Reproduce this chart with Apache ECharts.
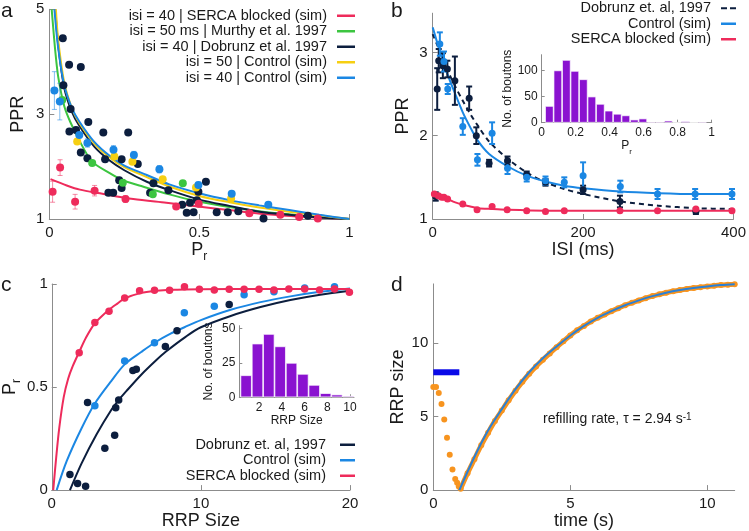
<!DOCTYPE html>
<html><head><meta charset="utf-8">
<script src="https://cdn.jsdelivr.net/npm/echarts@6/dist/echarts.min.js"></script>
<style>html,body{margin:0;padding:0;background:#fff}#c{width:749px;height:531px}</style>
</head><body><div id="c"></div>
<script>
// ---------- Panel a data ----------
const aSercaPr = [0.011,0.036,0.086,0.151,0.254,0.423,0.498,0.667,0.770,0.833,0.895];
const aSercaPPR = [1.52,1.98,1.33,1.54,1.38,1.24,1.29,1.11,1.08,1.04,1.01];
const aSercaErr = [0.2,0.15,0.14,0.1,0.06,0,0,0,0,0,0];
const aMurthyPr = [0.043,0.143,0.245,0.345,0.445];
const aMurthyPPR = [3.27,2.07,1.69,1.47,1.68];
const aDobPr = [0.045,0.047,0.066,0.105,0.071,0.067,0.089,0.105,0.130,0.127,0.180,0.186,0.263,0.241,0.295,0.233,0.197,0.213,0.241,0.336,0.347,0.397,0.443,0.458,0.469,0.481,0.492,0.497,0.522,0.558,0.595,0.630,0.714,0.862];
const aDobPPR = [4.45,3.55,3.94,3.90,3.10,2.67,2.70,2.27,2.85,2.16,2.65,2.14,2.65,2.14,2.05,1.74,1.50,1.50,1.59,1.50,1.68,1.55,1.27,1.12,1.31,1.13,1.36,1.52,1.71,1.13,1.13,1.15,1.01,1.06];
const aCtl50Pr = [0.093,0.217,0.277,0.378,0.489,0.606];
const aCtl50PPR = [2.48,2.19,2.09,1.76,1.60,1.39];
const aCtl40Pr = [0.017,0.035,0.100,0.127,0.214,0.282,0.367,0.497,0.608,0.730];
const aCtl40PPR = [3.45,3.24,2.60,2.45,2.32,2.22,1.95,1.65,1.48,1.27];
const aCtl40Err = [0.36,0.35,0.05,0.08,0.08,0.07,0.07,0.05,0.04,0.04];
// fitted curves
const aSercaFitPr = [0.004,0.058,0.102,0.169,0.28,0.39,0.503,0.614,0.725,0.836,1.0];
const aSercaFitPPR = [1.76,1.64,1.56,1.49,1.38,1.31,1.235,1.16,1.09,1.045,1.0];
const aMurthyFitPr = [0.008,0.02,0.03,0.05,0.07,0.1,0.142,0.2,0.245,0.3,0.4,0.5,0.6,0.7,0.8,0.9,1.0];
const aMurthyFitPPR = [5,4.2,3.7,3.15,2.85,2.5,2.1,1.88,1.74,1.64,1.47,1.33,1.23,1.15,1.09,1.04,1.0];
const aDobFitPr = [0.02,0.03,0.05,0.075,0.1,0.15,0.2,0.25,0.325,0.4,0.5,0.6,0.7,0.8,0.9,1.0];
const aDobFitPPR = [5,4.3,3.5,3.05,2.78,2.38,2.12,1.93,1.71,1.55,1.37,1.25,1.14,1.08,1.03,1.0];
const aCtl50FitPr = [0.022,0.03,0.05,0.075,0.1,0.15,0.2,0.25,0.325,0.4,0.5,0.6,0.7,0.8,0.9,1.0];
const aCtl50FitPPR = [5,4.4,3.6,3.12,2.83,2.44,2.18,1.99,1.80,1.62,1.44,1.32,1.22,1.14,1.07,1.0];
const aCtl40FitPr = [0.017,0.03,0.05,0.075,0.1,0.15,0.2,0.25,0.325,0.4,0.5,0.6,0.7,0.8,0.9,1.0];
const aCtl40FitPPR = [5,4.25,3.55,3.12,2.86,2.47,2.21,2.02,1.84,1.66,1.49,1.36,1.26,1.17,1.08,1.0];
const aXTicks = [0,0.5,1];
const aYTicks = [1,3,5];

// ---------- Panel b data ----------
const bDobISI = [4,6,8,13.5,19.5,29.5,48.5,58,75,99.5,125,150,200,249,350];
const bDobPPR = [1.27,2.56,2.90,2.84,2.80,2.66,2.45,2.00,1.67,1.70,1.53,1.44,1.35,1.21,1.09];
const bDobErr = [0.05,0.25,0.14,0.15,0.1,0.29,0.14,0.1,0.04,0.05,0.04,0.04,0.05,0.07,0.03];
const bCtlISI = [9.5,15,20,40,59.5,79,99.5,125,150,175,200,249.5,299,349,398];
const bCtlPPR = [3.10,2.89,2.56,2.11,1.71,2.03,1.61,1.50,1.46,1.44,1.52,1.39,1.30,1.30,1.30];
const bCtlErr = [0.14,0.12,0.06,0.1,0.07,0.13,0.07,0.05,0.05,0.06,0.16,0.07,0.06,0.06,0.06];
const bSercaISI = [2.2,7.5,11.9,15,19.8,40,59,79,99,125,150,175,249,299,350,398];
const bSercaPPR = [1.30,1.28,1.26,1.26,1.24,1.18,1.11,1.15,1.11,1.10,1.09,1.10,1.10,1.10,1.12,1.10];
const bCtlFitISI = [0,10,20,30,40,50,60,75,100,125,150,175,200,250,300,350,400];
const bCtlFitPPR = [3.3,3.0,2.73,2.5,2.28,2.1,1.94,1.78,1.63,1.52,1.45,1.40,1.37,1.33,1.31,1.30,1.30];
const bDobFitISI = [0,10,20,30,40,50,60,75,100,125,150,175,200,250,300,350,400];
const bDobFitPPR = [3.22,3.0,2.78,2.59,2.42,2.26,2.12,1.93,1.72,1.56,1.44,1.36,1.30,1.21,1.16,1.13,1.12];
const bSercaFitISI = [0,10,20,30,40,50,60,80,100,150,200,300,400];
const bSercaFitPPR = [1.33,1.28,1.24,1.2,1.17,1.15,1.13,1.12,1.11,1.10,1.10,1.10,1.10];
const bXTicks = [0,200,400];
const bYTicks = [1,2,3];
// inset histogram (Pr)
const bHistPr = [0.045,0.095,0.145,0.195,0.245,0.295,0.345,0.395,0.445,0.495,0.545,0.595,0.645,0.695,0.745,0.795,0.845,0.895,0.945];
const bHistCount = [32,100,120,99,83,50,36,23,17,14,6,8,2,2,4,0,3,0,2];
const bHistYTicks = [0,50,100];

// ---------- Panel c data ----------
const cSercaRRP = [1.84,2.89,3.84,4.89,5.89,6.89,7.9,8.9,9.9,10.9,11.9,12.9,13.9,14.9,15.9,16.96,17.96,18.96,19.96];
const cSercaPr = [0.666,0.813,0.868,0.932,0.967,0.97,0.97,0.987,0.975,0.971,0.975,0.975,0.975,0.971,0.976,0.976,0.971,0.976,0.96];
const cCtlRRP = [2.89,4.89,6.89,8.89,10.9,12.9,14.9,16.96,18.96];
const cCtlPr = [0.409,0.626,0.715,0.861,0.892,0.948,0.963,0.98,0.987];
const cDobRRP = [1.22,1.73,2.27,2.4,3.56,4.22,4.29,4.49,5.44,5.67,7.62,8.4,11.9];
const cDobPr = [0.076,0.032,0.019,0.425,0.203,0.266,0.40,0.437,0.58,0.586,0.697,0.773,0.9];
const cSercaFitRRP = [0.1,0.3,0.5,0.8,1.1,1.4,1.84,2.3,2.89,3.3,3.84,4.4,4.89,6,7,8,10,14,20];
const cSercaFitPr = [0,0.16,0.3,0.45,0.54,0.6,0.67,0.74,0.81,0.84,0.875,0.905,0.93,0.957,0.967,0.972,0.975,0.976,0.976];
const cCtlFitRRP = [0.33,1,2,2.89,4,4.89,6,6.89,8,8.9,10,12,14,16,18,20];
const cCtlFitPr = [0,0.14,0.3,0.42,0.53,0.61,0.67,0.715,0.76,0.79,0.825,0.875,0.912,0.94,0.962,0.978];
const cDobFitRRP = [1.22,2,3,4,4.49,5,6,7,7.62,9,10,12,14,16,18,20];
const cDobFitPr = [0,0.13,0.27,0.39,0.437,0.48,0.56,0.63,0.67,0.745,0.79,0.845,0.888,0.922,0.948,0.967];
const cXTicks = [0,10,20];
const cYTicks = [0,0.5,1];
// inset histogram (RRP size)
const cHistRRP = [0.85,1.85,2.85,3.85,4.85,5.85,6.85,7.85,8.85,9.85];
const cHistCount = [16,39,46,37,25,17,9,3,2,1];
const cHistXTicks = [2,4,6,8,10];
const cHistYTicks = [0,25,50];

// ---------- Panel d data ----------
const dDropT = [0,0.1,0.2,0.3,0.4,0.5,0.6,0.7,0.8,0.87,0.93];
const dDropY = [7.0,7.0,6.6,5.85,4.8,3.55,2.4,1.4,0.75,0.5,0.25];
const dRiseT = [1.0,1.25,1.5,1.75,2.0,2.25,2.5,2.75,3.0,3.25,3.5,3.75,4.0,4.25,4.5,4.75,5.0,5.25,5.5,5.75,6.0,6.25,6.5,6.75,7.0,7.25,7.5,7.75,8.0,8.25,8.5,8.75,9.0,9.25,9.5,9.75,10.0,10.25,10.5,10.75,11.0];
const dRiseY = [0.1,1.15,2.1,3.05,3.9,4.7,5.4,6.1,6.75,7.35,7.9,8.4,8.85,9.28,9.7,10.1,10.5,10.85,11.15,11.45,11.7,11.93,12.15,12.35,12.55,12.72,12.88,13.03,13.17,13.29,13.4,13.5,13.58,13.66,13.72,13.78,13.83,13.88,13.92,13.95,13.98];
const dFitT = [0.95,1.5,2.0,2.5,3.0,3.5,4.0,4.5,5.0,5.5,6.0,6.5,7.0,7.5,8.0,8.5,9.0,9.5,10.0,10.5,11.0];
const dFitY = [0,2.25,4.05,5.5,6.85,8.0,8.95,9.75,10.5,11.15,11.7,12.15,12.55,12.88,13.17,13.4,13.58,13.72,13.83,13.92,13.98];
const dBarT = [0,0.95];
const dBarY = [8,8];
const dXTicks = [0,5,10];
const dYTicks = [0,5,10];

// ---------- styling ----------
const FONT = '"Liberation Sans", Arial, sans-serif';
const AX = '#8c8c8c', TXT = '#1a1a1a';
const RED='#ee2b5b', GREEN='#3cc540', NAVY='#0c1e3e', YEL='#f6cf12', BLUE='#1b87e3', PURPLE='#8a12d0', ORANGE='#f7941f', DBLUE='#0a0ae8';

function merge(a,b){const o=Object.assign({},a);for(const k in b){const v=b[k];if(v&&typeof v==='object'&&!Array.isArray(v)&&a[k]&&typeof a[k]==='object'&&!Array.isArray(a[k]))o[k]=merge(a[k],v);else o[k]=v;}return o;}
function axis(gi,o){return merge({gridIndex:gi,type:'value',nameLocation:'middle',
  axisLine:{show:true,onZero:false,lineStyle:{color:AX,width:1}},
  axisTick:{show:true,inside:true,length:5,lineStyle:{color:AX}},
  splitLine:{show:false},
  axisLabel:{color:TXT,fontSize:15,fontFamily:FONT,margin:6},
  nameTextStyle:{color:TXT,fontSize:18,fontFamily:FONT}},o);}
function subRich(big,small){return {P:{fontSize:big,lineHeight:big+8,fontFamily:FONT,color:TXT,verticalAlign:'middle'},
  r:{fontSize:small,lineHeight:small,fontFamily:FONT,color:TXT,verticalAlign:'bottom'}};}
const pairs=(xs,ys)=>xs.map((x,i)=>[x,ys[i]]);
function errData(xs,ys,es){const out=[];xs.forEach((x,i)=>{if(es[i]>0)out.push([x,ys[i]-es[i],ys[i]+es[i]]);});return out;}
function errSeries(gi,data,color,width,cap,opacity){return {type:'custom',xAxisIndex:gi,yAxisIndex:gi,data,encode:{x:0,y:[1,2]},silent:true,z:3,
  renderItem:(p,api)=>{const x=api.value(0),lo=api.value(1),hi=api.value(2);const a=api.coord([x,hi]),b=api.coord([x,lo]);
   const st={stroke:color,lineWidth:width,opacity:opacity};
   const ch=[{type:'line',shape:{x1:a[0],y1:a[1],x2:b[0],y2:b[1]},style:st}];
   if(cap>0){ch.push({type:'line',shape:{x1:a[0]-cap,y1:a[1],x2:a[0]+cap,y2:a[1]},style:st});
             ch.push({type:'line',shape:{x1:b[0]-cap,y1:b[1],x2:b[0]+cap,y2:b[1]},style:st});}
   return {type:'group',children:ch};}};}
function curve(gi,name,xs,ys,color,width,extra){return merge({type:'line',name,xAxisIndex:gi,yAxisIndex:gi,data:pairs(xs,ys),showSymbol:false,smooth:0.3,z:2,
  lineStyle:{color,width},itemStyle:{color},silent:true},extra||{});}
function dots(gi,xs,ys,color,size,extra){return merge({type:'scatter',xAxisIndex:gi,yAxisIndex:gi,data:pairs(xs,ys),symbolSize:size,z:4,
  itemStyle:{color,opacity:1},silent:true},extra||{});}

const legendText={fontSize:14.5,lineHeight:15.5,color:TXT,fontFamily:FONT,padding:[0,5,0,0]};
function legItem(name,color){return {name,icon:'rect',itemStyle:{color,borderWidth:0}};}

const option={
 animation:false,
 backgroundColor:'#fff',
 textStyle:{fontFamily:FONT},
 title:[
  {text:'a',left:1,top:1,padding:0,textStyle:{fontSize:21,fontWeight:'normal',color:TXT,fontFamily:FONT}},
  {text:'b',left:391,top:1,padding:0,textStyle:{fontSize:21,fontWeight:'normal',color:TXT,fontFamily:FONT}},
  {text:'c',left:1,top:275,padding:0,textStyle:{fontSize:21,fontWeight:'normal',color:TXT,fontFamily:FONT}},
  {text:'d',left:391,top:275,padding:0,textStyle:{fontSize:21,fontWeight:'normal',color:TXT,fontFamily:FONT}}
 ],
 grid:[
  {left:49.3,top:9.3,width:300,height:209.7},
  {left:432.7,top:13.2,width:303,height:205.8},
  {left:541.7,top:54.7,width:170,height:68},
  {left:50,top:284,width:300,height:210.3},
  {left:239.3,top:325.7,width:114.7,height:71.6},
  {left:433.3,top:283.9,width:301.4,height:210.4}
 ],
 xAxis:[
  axis(0,{min:0,max:1,interval:0.5,name:'{P|P}{r|r}',nameGap:12,nameTextStyle:{rich:subRich(18,12)},axisLabel:{customValues:aXTicks},axisTick:{customValues:aXTicks}}),
  axis(1,{min:0,max:400,name:'ISI (ms)',nameGap:17,axisLabel:{customValues:bXTicks},axisTick:{customValues:bXTicks}}),
  axis(2,{min:0,max:1,interval:0.2,name:'{P|P}{r|r}',nameGap:1,axisLabel:{fontSize:12,margin:4},axisTick:{length:3},nameTextStyle:{rich:subRich(12,8)}}),
  axis(3,{min:0,max:20,name:'RRP Size',nameGap:17,axisLabel:{customValues:cXTicks},axisTick:{customValues:cXTicks}}),
  axis(4,{min:0.25,max:10.35,name:'RRP Size',nameGap:14,axisLabel:{fontSize:12,margin:4,customValues:cHistXTicks},axisTick:{length:3,customValues:cHistXTicks},nameTextStyle:{fontSize:12}}),
  axis(5,{min:0,max:11,name:'time (s)',nameGap:17,axisLabel:{customValues:dXTicks},axisTick:{customValues:dXTicks}})
 ],
 yAxis:[
  axis(0,{min:1,max:5,name:'PPR',nameGap:22,axisLabel:{customValues:aYTicks,margin:5},axisTick:{customValues:aYTicks}}),
  axis(1,{min:1,max:3.47,name:'PPR',nameGap:21,axisLabel:{customValues:bYTicks,margin:5},axisTick:{customValues:bYTicks}}),
  axis(2,{min:0,max:130,name:'No. of boutons',nameGap:23,axisLabel:{fontSize:12,margin:4,customValues:bHistYTicks},axisTick:{length:3,customValues:bHistYTicks},nameTextStyle:{fontSize:12}}),
  axis(3,{min:0,max:1,name:'{P|P}{r|r}',nameGap:26,nameTextStyle:{rich:subRich(18,12)},axisLabel:{customValues:cYTicks,margin:4},axisTick:{customValues:cYTicks}}),
  axis(4,{min:0,max:52,name:'No. of boutons',nameGap:25,axisLabel:{fontSize:12,margin:4,customValues:cHistYTicks},axisTick:{length:3,customValues:cHistYTicks},nameTextStyle:{fontSize:12}}),
  axis(5,{min:0,max:14,name:'RRP size',nameGap:26,axisLabel:{customValues:dYTicks,margin:5},axisTick:{customValues:dYTicks}})
 ],
 legend:[
  {orient:'vertical',right:394,top:8,align:'right',padding:0,itemGap:0,itemWidth:18,itemHeight:2.5,selectedMode:false,textStyle:legendText,
   data:[legItem('isi = 40 | SERCA blocked (sim)',RED),legItem('isi = 50 ms | Murthy et al. 1997',GREEN),legItem('isi = 40 | Dobrunz et al. 1997',NAVY),
         legItem('isi = 50 | Control (sim)',YEL),legItem('isi = 40 | Control (sim)',BLUE)]},
  {orient:'vertical',right:13,top:0.5,align:'right',padding:0,itemGap:0,itemWidth:15,itemHeight:2.5,selectedMode:false,textStyle:legendText,
   data:[{name:'Dobrunz et. al, 1997',icon:'path://M0,0H6V2H0Z M9,0H15V2H9Z',itemStyle:{color:NAVY,borderWidth:0}},legItem('Control (sim)',BLUE),legItem('SERCA blocked (sim)',RED)]},
  {orient:'vertical',right:394,top:437,align:'right',padding:0,itemGap:0,itemWidth:15,itemHeight:2.5,selectedMode:false,textStyle:legendText,
   data:[legItem('Dobrunz et. al, 1997 ',NAVY),legItem('Control (sim) ',BLUE),legItem('SERCA blocked (sim) ',RED)]}
 ],
 graphic:[
  {type:'text',left:543,top:412,silent:true,style:{text:'refilling rate, τ = 2.94 s{sup|-1}',fill:TXT,font:'14px '+FONT,
   rich:{sup:{fontSize:10,lineHeight:10,verticalAlign:'top',fill:TXT,fontFamily:FONT}}}}
 ],
 series:[
  // panel a
  curve(0,'isi = 40 | SERCA blocked (sim)',aSercaFitPr,aSercaFitPPR,RED,2),
  curve(0,'isi = 50 ms | Murthy et al. 1997',aMurthyFitPr,aMurthyFitPPR,GREEN,2),
  curve(0,'isi = 40 | Dobrunz et al. 1997',aDobFitPr,aDobFitPPR,NAVY,2),
  curve(0,'isi = 50 | Control (sim)',aCtl50FitPr,aCtl50FitPPR,YEL,2),
  curve(0,'isi = 40 | Control (sim)',aCtl40FitPr,aCtl40FitPPR,BLUE,2),
  errSeries(0,errData(aSercaPr,aSercaPPR,aSercaErr),RED,1,2.5,0.55),
  errSeries(0,errData(aCtl40Pr,aCtl40PPR,aCtl40Err),BLUE,1,2.5,0.55),
  dots(0,aDobPr,aDobPPR,NAVY,8),
  dots(0,aMurthyPr,aMurthyPPR,GREEN,8),
  dots(0,aCtl50Pr,aCtl50PPR,YEL,8),
  dots(0,aCtl40Pr,aCtl40PPR,BLUE,8),
  dots(0,aSercaPr,aSercaPPR,RED,8),
  // panel b
  curve(1,'Dobrunz et. al, 1997',bDobFitISI,bDobFitPPR,NAVY,2,{lineStyle:{type:[5,4]}}),
  curve(1,'Control (sim)',bCtlFitISI,bCtlFitPPR,BLUE,2),
  curve(1,'SERCA blocked (sim)',bSercaFitISI,bSercaFitPPR,RED,2),
  errSeries(1,errData(bDobISI,bDobPPR,bDobErr),NAVY,2,3,1),
  errSeries(1,errData(bCtlISI,bCtlPPR,bCtlErr),BLUE,2,3,1),
  dots(1,bDobISI,bDobPPR,NAVY,7,{clip:false}),
  dots(1,bCtlISI,bCtlPPR,BLUE,7,{clip:false}),
  dots(1,bSercaISI,bSercaPPR,RED,7,{clip:false}),
  // panel b inset
  {type:'bar',xAxisIndex:2,yAxisIndex:2,data:pairs(bHistPr,bHistCount),barWidth:8.5,silent:true,itemStyle:{color:PURPLE,borderColor:'#fff',borderWidth:0.7}},
  // panel c
  curve(3,'Dobrunz et. al, 1997 ',cDobFitRRP,cDobFitPr,NAVY,2),
  curve(3,'Control (sim) ',cCtlFitRRP,cCtlFitPr,BLUE,2),
  curve(3,'SERCA blocked (sim) ',cSercaFitRRP,cSercaFitPr,RED,2),
  dots(3,cDobRRP,cDobPr,NAVY,7.5,{clip:false}),
  dots(3,cCtlRRP,cCtlPr,BLUE,7.5,{clip:false}),
  dots(3,cSercaRRP,cSercaPr,RED,7.5,{clip:false}),
  // panel c inset
  {type:'bar',xAxisIndex:4,yAxisIndex:4,data:pairs(cHistRRP,cHistCount),barWidth:11.3,silent:true,itemStyle:{color:PURPLE,borderColor:'#fff',borderWidth:0.7}},
  // panel d
  curve(5,'RRP bar',dBarT,dBarY,DBLUE,6,{smooth:false}),
  curve(5,'refill band',dRiseT,dRiseY,ORANGE,5,{smooth:0.3}),
  dots(5,dDropT.concat(dRiseT),dDropY.concat(dRiseY),ORANGE,6,{clip:false}),
  curve(5,'refill fit',dFitT,dFitY,'#2a80d6',2,{z:5})
 ]
};
const chart=echarts.init(document.getElementById('c'),null,{renderer:'canvas'});
chart.setOption(option);
</script></body></html>
